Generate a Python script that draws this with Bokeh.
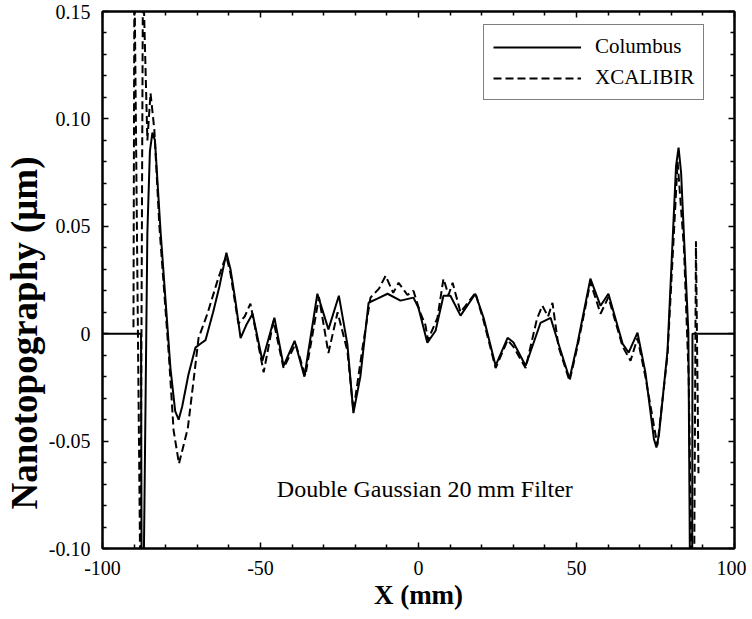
from bokeh.plotting import figure
from bokeh.models import (Range1d, LinearAxis, FixedTicker, Legend, LegendItem, Label,
                          Title, CustomJSTickFormatter)
from bokeh.embed import file_html
from bokeh.resources import INLINE

# ---- data ----
columbus_x = [-100, -87.8, -87.6, -87.1, -85.8, -85.0, -84.2, -83.4, -81.6, -78.5,
              -77.0, -75.9, -74.8, -72.8, -70.6, -69.0, -67.4, -65.0, -63.0, -60.8,
              -59.5, -58.0, -56.3, -54.5, -52.5, -49.4, -45.6, -42.7, -39.2, -36.1,
              -32.0, -28.5, -25.2, -22.5, -20.6, -18.4, -15.8, -13.0, -9.8, -5.7,
              -1.6, 0.0, 2.8, 5.4, 7.9, 10.1, 13.3, 18.0, 20.6, 24.4,
              28.2, 30.0, 33.9, 38.6, 41.8, 44.3, 47.8, 50.3, 54.4, 57.6,
              60.1, 64.6, 66.5, 69.3, 71.8, 74.5, 75.3, 76.1, 78.8, 81.5,
              82.3, 83.1, 85.4, 86.0, 86.6, 86.7, 100]
columbus_y = [0, 0, -0.13, -0.13, 0.047, 0.085, 0.0936, 0.090, 0.047, -0.016,
              -0.036, -0.040, -0.034, -0.019, -0.0065, -0.0047, -0.003, 0.010, 0.022, 0.0377,
              0.030, 0.016, -0.002, 0.004, 0.0093, -0.0126, 0.0074, -0.015, -0.0033, -0.020,
              0.0186, 0.0020, 0.0177, -0.005, -0.037, -0.020, 0.0144, 0.0163, 0.0186, 0.0154,
              0.0168, 0.012, -0.0042, 0.0014, 0.0177, 0.0177, 0.0084, 0.0186, 0.0074, -0.0149,
              -0.0019, -0.004, -0.0149, 0.005, 0.0074, -0.0047, -0.021, -0.0047, 0.0256, 0.013,
              0.0186, -0.0047, -0.0088, 0.0005, -0.018, -0.049, -0.053, -0.047, -0.008, 0.078,
              0.0866, 0.075, 0.0005, -0.13, -0.13, 0, 0]

xcal_x = [-90.2, -89.9, -88.0, -87.2, -85.8, -84.8, -83.6, -82.0, -79.0, -77.5,
          -75.8, -73.0, -71.2, -69.6, -66.8, -63.6, -61.7, -60.8, -59.5, -57.0,
          -55.0, -53.2, -49.0, -45.9, -42.7, -38.9, -35.8, -31.5, -28.5, -25.6,
          -22.5, -20.6, -17.7, -15.2, -12.5, -10.4, -8.0, -6.3, -3.5, -1.6,
          0.5, 2.2, 3.0, 6.0, 7.9, 9.5, 10.8, 13.3, 18.0, 20.6,
          24.4, 28.2, 30.0, 33.9, 37.5, 39.2, 41.0, 42.4, 44.3, 47.8,
          50.3, 54.4, 57.6, 60.1, 64.6, 67.1, 69.3, 71.8, 75.6, 78.8,
          82.0, 84.0, 85.5, 86.5, 87.2, 87.8, 88.6]
xcal_y = [0.003, 0.17, -0.12, 0.17, 0.090, 0.112, 0.095, 0.050, -0.010, -0.045,
          -0.0605, -0.044, -0.022, -0.002, 0.0093, 0.0247, 0.033, 0.036, 0.028, 0.0047,
          0.008, 0.014, -0.018, 0.006, -0.016, -0.0047, -0.0195, 0.017, -0.009, 0.010,
          -0.008, -0.036, -0.0065, 0.0168, 0.021, 0.027, 0.019, 0.0237, 0.018, 0.020,
          0.010, 0.004, -0.003, 0.0074, 0.0256, 0.018, 0.0237, 0.010, 0.019, 0.006,
          -0.016, -0.003, -0.006, -0.016, 0.007, 0.013, 0.008, 0.0144, -0.006, -0.022,
          -0.006, 0.024, 0.0093, 0.017, -0.006, -0.0126, -0.002, -0.020, -0.052, -0.010,
          0.080, 0.040, -0.020, -0.120, -0.120, 0.043, -0.065]

x_ticks = [-100, -50, 0, 50, 100]
x_tick_labels = ["-100", "-50", "0", "50", "100"]
y_ticks = [-0.10, -0.05, 0, 0.05, 0.10, 0.15]
y_tick_labels = ["-0.10", "-0.05", "0", "0.05", "0.10", "0.15"]
x_minor = [-90, -80, -70, -60, -40, -30, -20, -10, 10, 20, 30, 40, 60, 70, 80, 90]
y_minor = [-0.09, -0.08, -0.07, -0.06, -0.04, -0.03, -0.02, -0.01,
           0.01, 0.02, 0.03, 0.04, 0.06, 0.07, 0.08, 0.09, 0.11, 0.12, 0.13, 0.14]

SERIF = "Liberation Serif"

p = figure(width=746, height=613, output_backend="svg", toolbar_location=None,
           x_range=Range1d(-100, 100), y_range=Range1d(-0.10, 0.15),
           min_border_left=102, min_border_right=12, min_border_top=11, min_border_bottom=65,
           x_axis_type=None, y_axis_type=None)
p.xgrid.visible = False
p.ygrid.visible = False
p.outline_line_color = "black"
p.outline_line_width = 2
p.background_fill_color = "white"
p.border_fill_color = "white"

xt = FixedTicker(ticks=x_ticks, minor_ticks=x_minor)
yt = FixedTicker(ticks=y_ticks, minor_ticks=y_minor)

def style(ax, labels=True):
    ax.axis_line_color = "black"
    ax.axis_line_width = 2
    ax.major_tick_in = 6
    ax.major_tick_out = 0
    ax.minor_tick_in = 4
    ax.minor_tick_out = 0
    ax.major_tick_line_width = 1.5
    ax.minor_tick_line_width = 1.5
    ax.major_label_text_font = SERIF
    ax.major_label_text_color = "black"
    if labels:
        ax.major_label_text_font_size = "20px"
    else:
        ax.formatter = CustomJSTickFormatter(code="return ''")
        ax.major_label_standoff = 0

xb = LinearAxis(ticker=xt, major_label_overrides=dict(zip(x_ticks, x_tick_labels)))
style(xb)
xb.major_label_standoff = 12
xb.axis_label = "X (mm)"
xb.axis_label_text_font = SERIF
xb.axis_label_text_font_style = "bold"
xb.axis_label_text_font_size = "27px"
xb.axis_label_text_color = "black"
xb.axis_label_standoff = 2
p.add_layout(xb, "below")

yl = LinearAxis(ticker=yt, major_label_overrides=dict(zip(y_ticks, y_tick_labels)))
style(yl)
yl.major_label_standoff = 12
p.add_layout(yl, "left")

ytitle = Title(text="Nanotopography (\u03bcm)", align="left", offset=39,
               vertical_align="middle", standoff=0,
               text_font=SERIF, text_font_style="bold", text_font_size="37px",
               text_color="black")
p.add_layout(ytitle, "left")

xa = LinearAxis(ticker=xt)
style(xa, labels=False)
p.add_layout(xa, "above")
yr = LinearAxis(ticker=yt)
style(yr, labels=False)
p.add_layout(yr, "right")

r1 = p.line(columbus_x, columbus_y, line_color="black", line_width=2)
r2 = p.line(xcal_x, xcal_y, line_color="black", line_width=2, line_dash="8 4")

legend = Legend(items=[LegendItem(label="Columbus", renderers=[r1]),
                       LegendItem(label="XCALIBIR", renderers=[r2])],
                location=(381, 448))
legend.label_text_font = SERIF
legend.label_text_font_size = "21px"
legend.label_text_color = "black"
legend.border_line_color = "black"
legend.border_line_width = 1
legend.glyph_width = 88
legend.glyph_height = 24
legend.label_height = 24
legend.spacing = 6
legend.padding = 9
legend.margin = 0
legend.label_standoff = 14
legend.background_fill_alpha = 1
p.add_layout(legend, "center")

note = Label(x=2, y=-0.0722, text="Double Gaussian 20 mm Filter",
             text_align="center", text_baseline="middle",
             text_font=SERIF, text_font_size="24px", text_color="black")
p.add_layout(note)

open("out.html", "w").write(file_html(p, INLINE))
